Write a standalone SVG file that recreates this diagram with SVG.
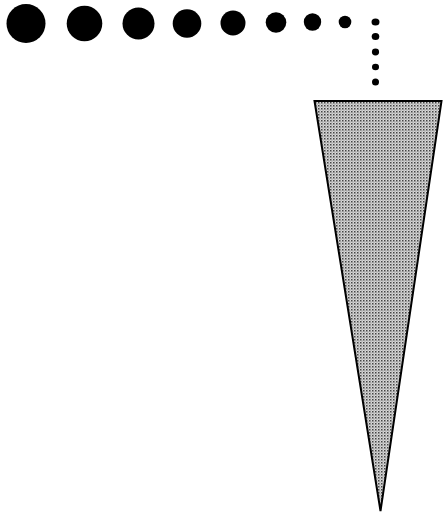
<svg xmlns="http://www.w3.org/2000/svg" width="443" height="518" viewBox="0 0 443 518">
<defs>
<pattern id="stip" width="3" height="3" patternUnits="userSpaceOnUse">
<rect width="3" height="3" fill="#d8d8d8"/>
<rect x="0" y="0" width="1.5" height="1.5" fill="#444"/>
<rect x="1.5" y="1.5" width="1" height="1" fill="#777"/>
</pattern>
</defs>
<style>.d{fill:#000}</style>
<rect width="443" height="518" fill="#fff"/>
<g id="dots">
<circle class="d" cx="26" cy="23.5" r="19.5"/>
<circle class="d" cx="84.5" cy="23.5" r="17.8"/>
<circle class="d" cx="138.5" cy="23.5" r="16"/>
<circle class="d" cx="187" cy="23.5" r="14.3"/>
<circle class="d" cx="233" cy="23" r="12.5"/>
<circle class="d" cx="276" cy="22.5" r="10.3"/>
<circle class="d" cx="312.5" cy="22" r="8.7"/>
<circle class="d" cx="345" cy="22" r="6.3"/>
<ellipse class="d" cx="375.5" cy="22" rx="4" ry="3.6"/>
<ellipse class="d" cx="375.5" cy="36.5" rx="3.8" ry="3.5"/>
<ellipse class="d" cx="375.5" cy="52" rx="3.6" ry="3.4"/>
<ellipse class="d" cx="375.5" cy="67" rx="3.5" ry="3.3"/>
<ellipse class="d" cx="375.5" cy="82" rx="3.5" ry="3.5"/>
</g>
<g id="cone">
<polygon points="314.5,101 441.5,101 380.5,511" fill="url(#stip)" stroke="#000" stroke-width="2" stroke-linejoin="miter"/>
</g>
</svg>
